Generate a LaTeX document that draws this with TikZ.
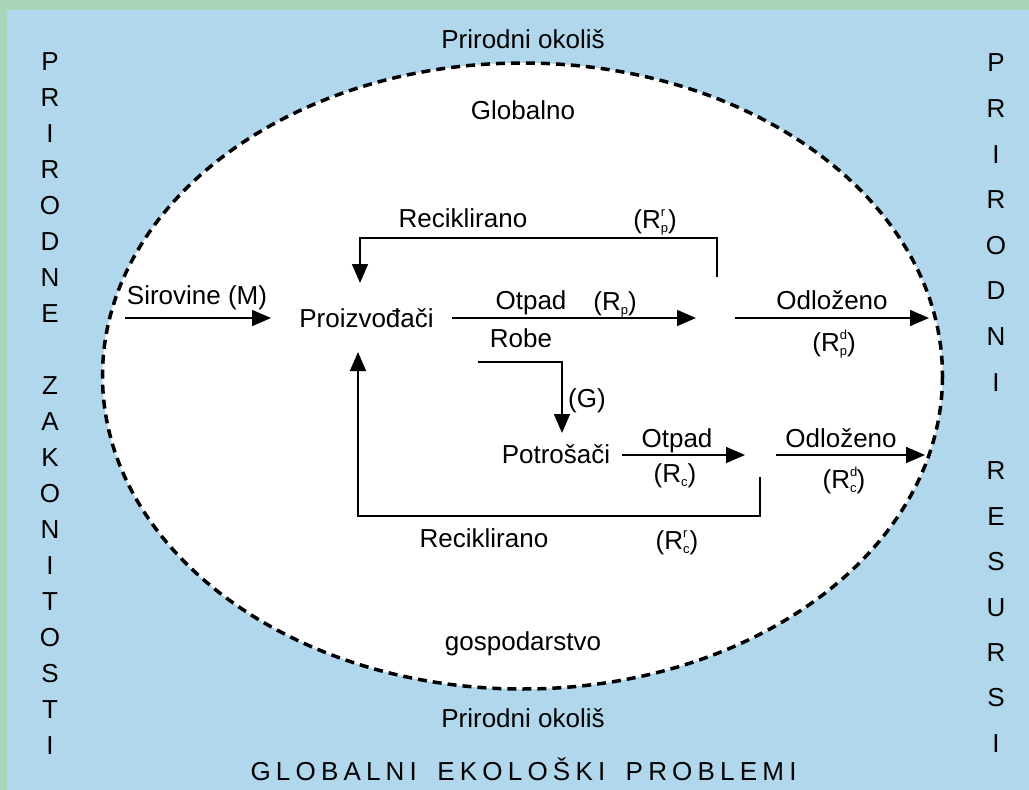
\documentclass[tikz,border=0pt]{standalone}
\usepackage{fontspec}
\setmainfont{Liberation Sans}
\usetikzlibrary{arrows.meta}

\definecolor{okolis}{HTML}{B0D7EB}
\definecolor{rub}{HTML}{A8D5B8}

\newcommand{\subsz}{\fontsize{13}{13}\selectfont}
\newcommand{\Rind}[2]{R\rlap{\raisebox{0.45em}{\subsz #1}}\raisebox{-0.18em}{\subsz #2}}

\tikzset{
  lbl/.style={anchor=base, inner sep=0pt, font=\fontsize{26}{31}\selectfont},
  side/.style={inner sep=0pt, font=\fontsize{26}{31}\selectfont},
  flow/.style={line width=1.6pt, -{Triangle[length=19pt,width=16pt]}},
}

\begin{document}
\begin{tikzpicture}[x=1pt,y=-1pt]
  \useasboundingbox (0,0) rectangle (1029,790);
  \fill[okolis] (0,0) rectangle (1029,790);
  \fill[rub] (0,0) rectangle (1029,10);
  \fill[rub] (0,0) rectangle (7,790);

  \draw[fill=white, line width=3.5pt, dash pattern=on 9pt off 6pt]
    (522.5,376) ellipse [x radius=420, y radius=313];

  % okolis
  \node[lbl] (okolisG) at (523,48) {Prirodni okoliš};
  \node[lbl] (okolisD) at (523,727) {Prirodni okoliš};
  \node[lbl] (problemi) at (523.5,780)
    {\addfontfeature{LetterSpace=20}GLOBALNI\hspace{8pt} EKOLOŠKI\hspace{8pt} PROBLEMI};
  \foreach \c [count=\i from 0] in {P,R,I,R,O,D,N,E}
    \node[side] (lp\i) at (50,{62+35.95*\i}) {\c};
  \foreach \c [count=\i from 9] in {Z,A,K,O,N,I,T,O,S,T,I}
    \node[side] (lz\i) at (50,{62+35.95*\i}) {\c};
  \foreach \c [count=\i from 0] in {P,R,I,R,O,D,N,I}
    \node[side] (rp\i) at (996,{63+45.6*\i}) {\c};
  \foreach \c [count=\i from 0] in {R,E,S,U,R,S,I}
    \node[side] (rr\i) at (996,{471+45.4*\i}) {\c};

  % gospodarstvo
  \node[lbl] (glob) at (523,119) {Globalno};
  \node[lbl] (gosp) at (523,650) {gospodarstvo};
  \node[lbl] (proizv) at (366.5,327) {Proizvođači};
  \node[lbl] (potros) at (556,463) {Potrošači};

  \node[lbl] (sirov) at (197,304) {Sirovine (M)};
  \node[lbl] (recG) at (463,227) {Reciklirano};
  \node[lbl] (rrp) at (655,228) {(\Rind{r}{p})};
  \node[lbl] (otpG) at (531,309) {Otpad};
  \node[lbl] (rp) at (615,310) {(R\raisebox{-0.18em}{\subsz p})};
  \node[lbl] (odlG) at (832,309) {Odloženo};
  \node[lbl] (rdp) at (834,351) {(\Rind{d}{p})};
  \node[lbl] (robe) at (521,347) {Robe};
  \node[lbl] (g) at (587,407) {(G)};
  \node[lbl] (otpD) at (677,447) {Otpad};
  \node[lbl] (rc) at (675,482) {(R\raisebox{-0.18em}{\subsz c})};
  \node[lbl] (odlD) at (841,447) {Odloženo};
  \node[lbl] (rdc) at (844,488) {(\Rind{d}{c})};
  \node[lbl] (recD) at (484,547) {Reciklirano};
  \node[lbl] (rrc) at (677,549) {(\Rind{r}{c})};

  \coordinate (mIn) at (125,318);
  \coordinate (mOut) at (271,318);
  \coordinate (rpIn) at (452,318);
  \coordinate (rpOut) at (696,318);
  \coordinate (rdpIn) at (735,318);
  \coordinate (rdpOut) at (929,318);
  \coordinate (rrpIn) at (717,277);
  \coordinate (rrpOut) at (360,283);
  \coordinate (gIn) at (478,362);
  \coordinate (gOut) at (562,433);
  \coordinate (rcIn) at (622,455);
  \coordinate (rcOut) at (745,455);
  \coordinate (rdcIn) at (776,455);
  \coordinate (rdcOut) at (925,455);
  \coordinate (rrcIn) at (760,477);
  \coordinate (rrcOut) at (358,352);

  \draw[flow] (mIn) -- (mOut);
  \draw[flow] (rpIn) -- (rpOut);
  \draw[flow] (rdpIn) -- (rdpOut);
  \draw[flow] (rrpIn) |- (360,238) -- (rrpOut);
  \draw[flow] (gIn) -| (gOut);
  \draw[flow] (rcIn) -- (rcOut);
  \draw[flow] (rdcIn) -- (rdcOut);
  \draw[flow] (rrcIn) |- (358,516) -- (rrcOut);
\end{tikzpicture}
\end{document}
